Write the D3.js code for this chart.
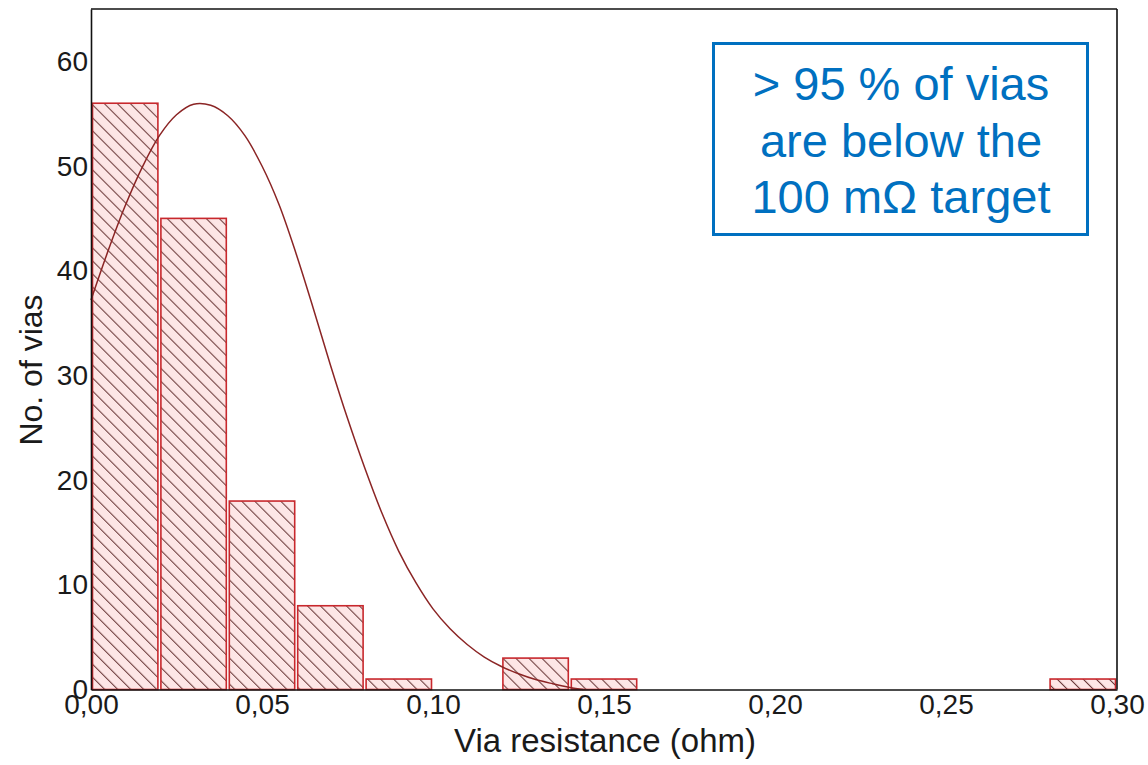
<!DOCTYPE html>
<html>
<head>
<meta charset="utf-8">
<script src="https://cdn.jsdelivr.net/npm/d3@7"></script>
<style>
  html, body { margin: 0; padding: 0; background: #fff; }
  svg { display: block; font-family: "Liberation Sans", Arial, sans-serif; }
</style>
</head>
<body>
<svg id="chart" width="1148" height="765"></svg>
<script>
// Histogram of via resistance, bins of 0.02 ohm
const bin_lower = [0.00, 0.02, 0.04, 0.06, 0.08, 0.10, 0.12, 0.14, 0.16, 0.18, 0.20, 0.22, 0.24, 0.26, 0.28];
const bin_width = 0.02;
const bin_counts = [56, 45, 18, 8, 1, 0, 3, 1, 0, 0, 0, 0, 0, 0, 1];

// Fitted distribution curve
const fit_x = [0, 0.005, 0.01, 0.015, 0.02, 0.025, 0.03, 0.035, 0.04, 0.045, 0.05, 0.055, 0.06, 0.065, 0.07,
    0.075, 0.08, 0.085, 0.09, 0.095, 0.10, 0.105, 0.11, 0.115, 0.12, 0.125, 0.13, 0.135, 0.14, 0.144];
const fit_y = [37.2, 41.9, 46.2, 49.9, 52.9, 54.9, 55.9, 55.8, 54.8, 52.9, 50.0, 46.3, 41.6, 36.4, 31.0,
    25.9, 21.2, 16.9, 13.2, 10.2, 7.7, 5.8, 4.3, 3.1, 2.2, 1.5, 0.95, 0.55, 0.2, 0];

// Axis ticks
const x_ticks = [0, 0.05, 0.10, 0.15, 0.20, 0.25, 0.30];
const y_ticks = [0, 10, 20, 30, 40, 50, 60];

const note_lines = ["> 95 % of vias", "are below the", "100 m\u03A9 target"];

const plot = {left: 91, right: 1117, top: 9, bottom: 689.5};
const blue = "#0070c0";

const svg = d3.select("#chart");

const x = d3.scaleLinear().domain([0, 0.30]).range([plot.left, plot.right]);
const y = d3.scaleLinear().domain([0, 65]).range([plot.bottom, plot.top]);

// Hatch pattern for the bars
const pattern = svg.append("defs").append("pattern")
    .attr("id", "hatch")
    .attr("patternUnits", "userSpaceOnUse")
    .attr("width", 9.2)
    .attr("height", 9.2)
    .attr("patternTransform", "rotate(-45)");
pattern.append("rect")
    .attr("width", 9.2).attr("height", 9.2)
    .attr("fill", "#fde6e6");
pattern.append("line")
    .attr("x1", 0.5).attr("y1", 0).attr("x2", 0.5).attr("y2", 9.2)
    .attr("stroke", "#6b3a3a")
    .attr("stroke-width", 1.1);

// Bars
svg.append("g")
    .selectAll("rect")
    .data(bin_lower.map((b, i) => ({x0: b, x1: b + bin_width, n: bin_counts[i]})).filter(d => d.n > 0))
    .enter()
    .append("rect")
    .attr("x", d => x(d.x0) + 1.5)
    .attr("width", d => x(d.x1) - x(d.x0) - 3)
    .attr("y", d => y(d.n))
    .attr("height", d => y(0) - y(d.n))
    .attr("fill", "url(#hatch)")
    .attr("stroke", "#c8282d")
    .attr("stroke-width", 1.6);

// Fitted curve
svg.append("path")
    .datum(fit_x.map((v, i) => [v, fit_y[i]]))
    .attr("d", d3.line()
        .x(d => x(d[0]))
        .y(d => y(d[1]))
        .curve(d3.curveCatmullRom.alpha(0.5)))
    .attr("fill", "none")
    .attr("stroke", "#8b2525")
    .attr("stroke-width", 1.5);

// Frame
svg.append("line")
    .attr("x1", plot.left).attr("x2", plot.right)
    .attr("y1", plot.top).attr("y2", plot.top)
    .attr("stroke", "#111").attr("stroke-width", 1.6);
svg.append("line")
    .attr("x1", plot.right).attr("x2", plot.right)
    .attr("y1", plot.top).attr("y2", plot.bottom)
    .attr("stroke", "#111").attr("stroke-width", 1.6);

// Axes
const x_axis = svg.append("g")
    .attr("transform", `translate(0,${plot.bottom})`)
    .call(d3.axisBottom(x)
        .tickValues(x_ticks)
        .tickSize(0)
        .tickPadding(5)
        .tickFormat(d => d3.format(".2f")(d).replace(".", ",")));
const y_axis = svg.append("g")
    .attr("transform", `translate(${plot.left},0)`)
    .call(d3.axisLeft(y)
        .tickValues(y_ticks)
        .tickSize(0)
        .tickPadding(3));

[x_axis, y_axis].forEach(axis => {
    axis.select(".domain").attr("stroke", "#111").attr("stroke-width", 1.6);
    axis.selectAll("text")
        .attr("font-family", "Liberation Sans, Arial, sans-serif")
        .attr("font-size", 28)
        .attr("fill", "#1a1a1a");
});

// Axis titles
svg.append("text")
    .attr("x", 605)
    .attr("y", 752)
    .attr("text-anchor", "middle")
    .attr("font-size", 33)
    .attr("fill", "#1a1a1a")
    .text("Via resistance (ohm)");
svg.append("text")
    .attr("transform", "translate(42,370) rotate(-90)")
    .attr("text-anchor", "middle")
    .attr("font-size", 32)
    .attr("fill", "#1a1a1a")
    .text("No. of vias");

// Annotation box
svg.append("rect")
    .attr("x", 713.5).attr("y", 43.5)
    .attr("width", 374).attr("height", 191)
    .attr("fill", "#fff")
    .attr("stroke", blue)
    .attr("stroke-width", 3);
svg.append("g")
    .selectAll("text")
    .data(note_lines)
    .enter()
    .append("text")
    .attr("x", 901)
    .attr("y", (d, i) => 100 + i * 56.5)
    .attr("text-anchor", "middle")
    .attr("font-size", 47)
    .attr("fill", blue)
    .text(d => d);
</script>
</body>
</html>
